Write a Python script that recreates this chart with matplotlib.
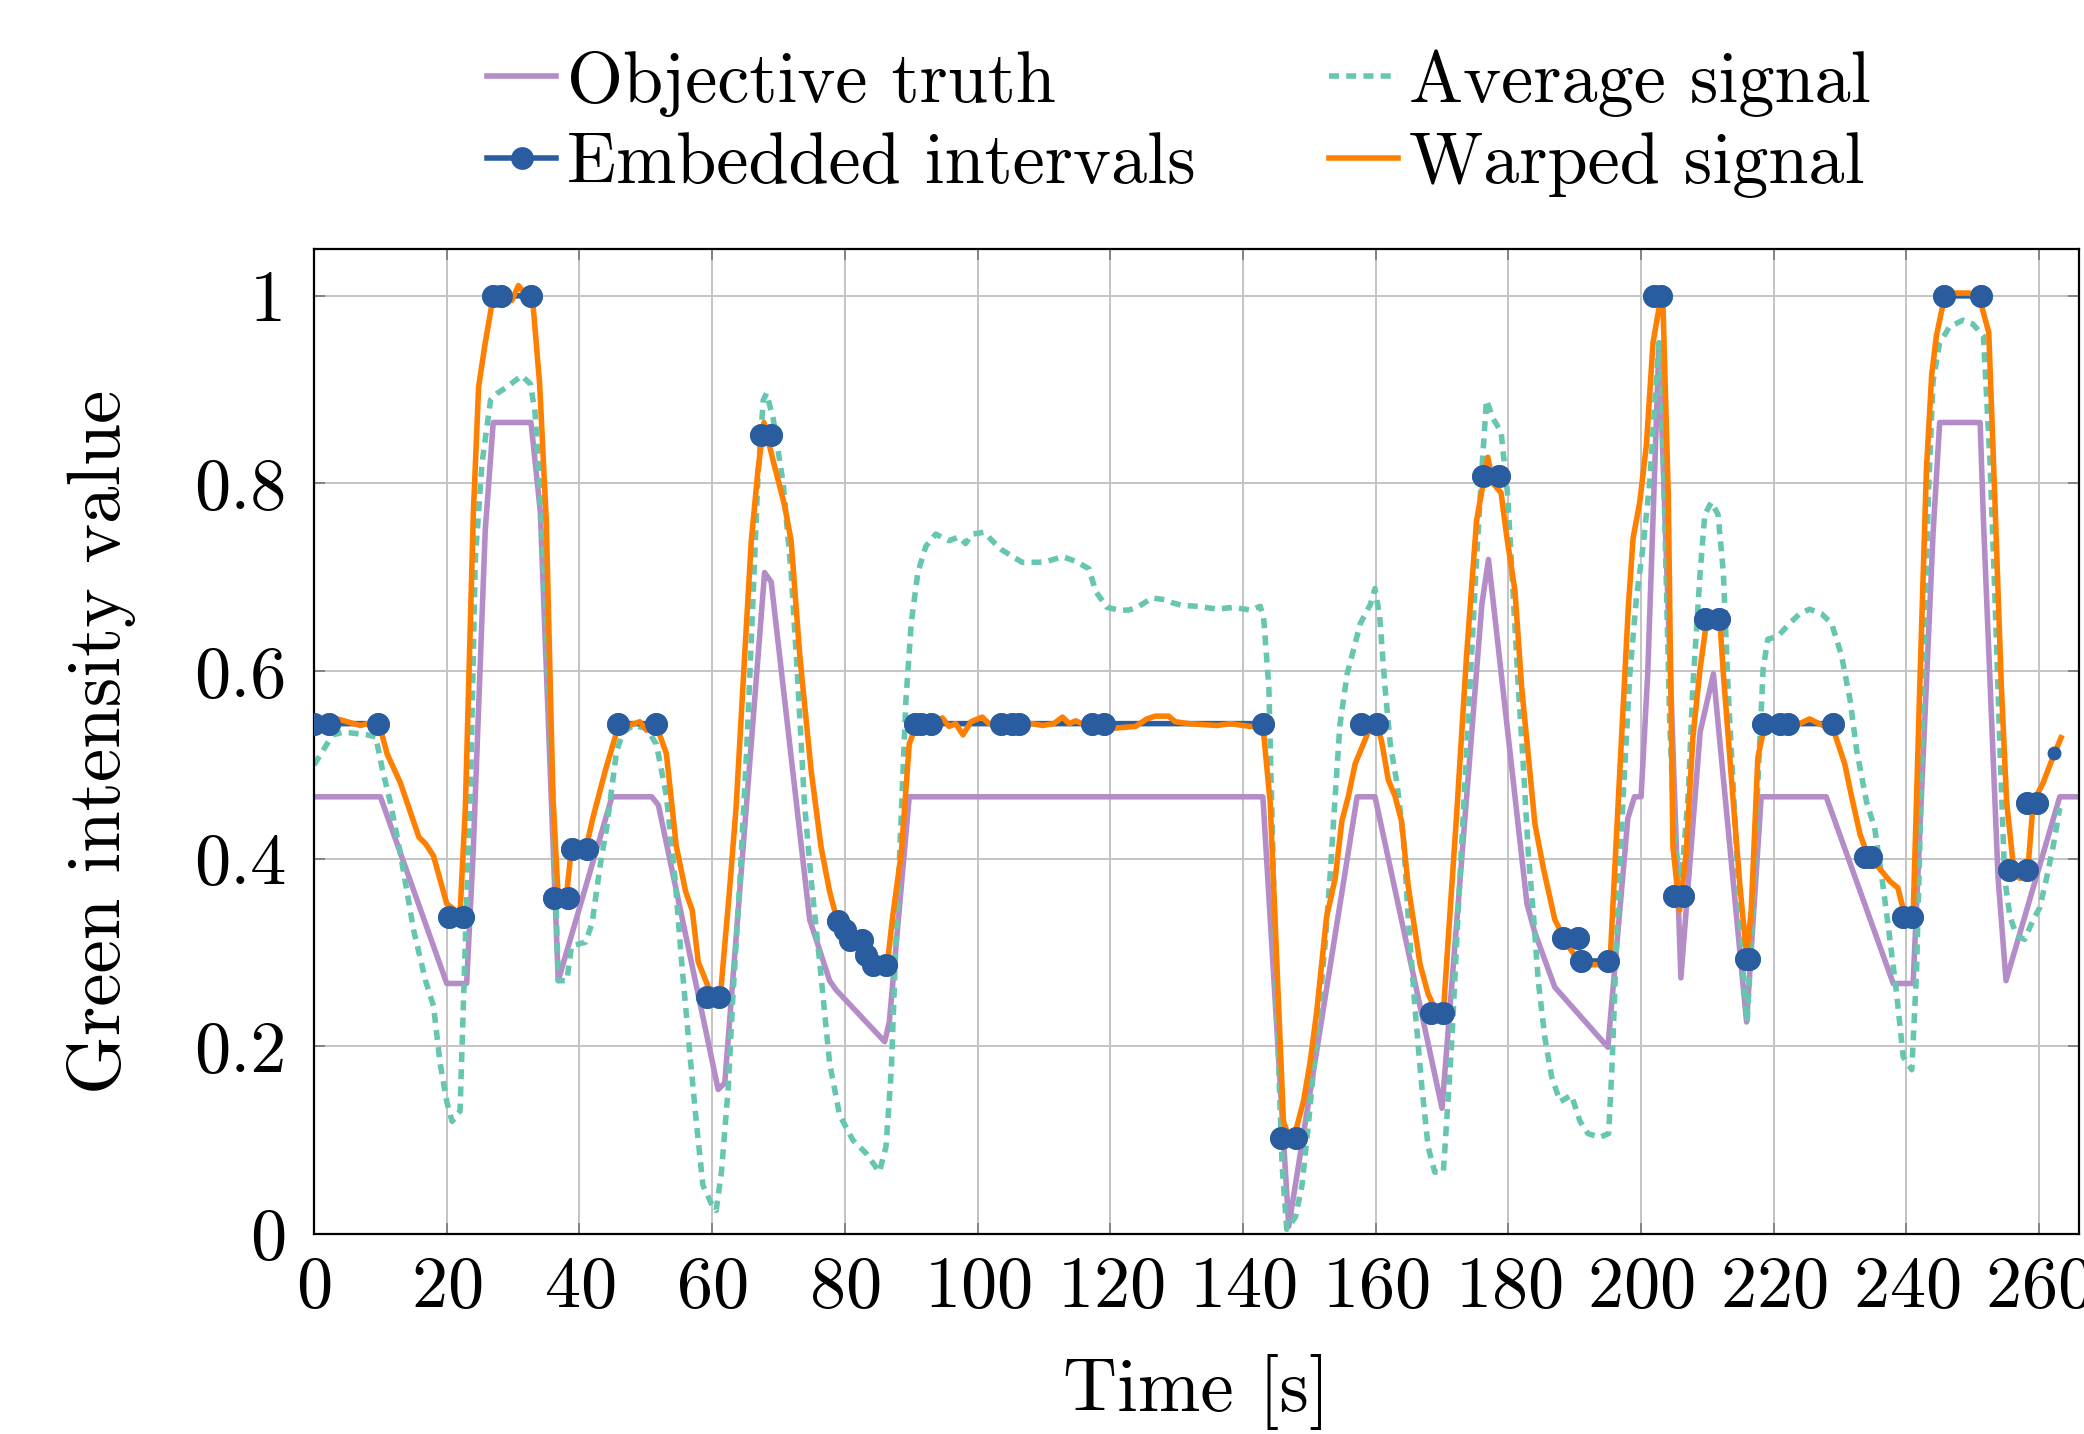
import numpy as np
import matplotlib
matplotlib.use('Agg')
import matplotlib.pyplot as plt

plt.rcParams['font.family'] = ['cmr10', 'DejaVu Serif']
plt.rcParams['axes.formatter.use_mathtext'] = True
plt.rcParams['mathtext.fontset'] = 'cm'

# Objective truth
truth_t = [0, 10, 20, 23, 24, 25.8, 27, 32.7, 34.1, 36.8, 44.9, 50.9, 51.9, 60.9, 61.9,
           67.9, 68.9, 74.7, 77.7, 78.7, 86, 86.7, 89.7, 143, 146.9, 157.2, 159.9, 170,
           176, 177, 182.8, 184, 187, 195, 198, 199, 200, 201, 202.7, 206, 208.9, 210.9,
           215.9, 218.1, 227.9, 238, 241, 244, 245, 251.1, 251.6, 253.8, 255, 263.1, 266]
truth_v = [0.466, 0.466, 0.267, 0.267, 0.41, 0.75, 0.865, 0.865, 0.77, 0.27, 0.466, 0.466,
           0.457, 0.154, 0.161, 0.705, 0.695, 0.335, 0.27, 0.26, 0.205, 0.226, 0.466, 0.466,
           0.008, 0.466, 0.466, 0.134, 0.671, 0.719, 0.352, 0.321, 0.263, 0.199, 0.443,
           0.466, 0.466, 0.597, 0.95, 0.273, 0.535, 0.597, 0.226, 0.466, 0.466, 0.267, 0.267,
           0.746, 0.865, 0.865, 0.76, 0.38, 0.27, 0.466, 0.466]

# Average signal
avg_t = [0, 2.8, 4.5, 8, 9.3, 10.3, 11.5, 13, 15, 16.8, 18, 19, 20, 20.8, 22, 22.8, 23.6,
         24.3, 25.3, 26.6, 27.6, 29.1, 31.3, 32.6, 33.3, 34.1, 35, 36.1, 36.8, 38.1, 38.8,
         40.9, 41.9, 43.1, 44.1, 45.6, 46.6, 48.1, 50.1, 51.6, 53.1, 54.4, 55.4, 56.6, 57.6,
         58.6, 59.9, 60.6, 61.4, 62.4, 63.1, 64.2, 65.2, 66.2, 66.9, 67.7, 68.2, 69.2, 70.7,
         71.9, 72.9, 73.9, 74.9, 76.2, 77.7, 79.2, 81.2, 83.2, 85.2, 86.2, 87, 87.7, 88.5,
         89.2, 90, 91, 92.2, 93.7, 95.7, 97.2, 98.2, 99.2, 101, 102.2, 103.7, 106.7, 109.2,
         110.5, 112.8, 114.8, 116.8, 117.8, 119.5, 121.3, 122.8, 124.3, 126.3, 128.3, 129.3,
         130.8, 133.3, 136.1, 138.6, 141.1, 142.6, 143.1, 143.9, 144.6, 145.4, 145.9, 146.6,
         147.9, 148.9, 149.9, 151.1, 152.4, 153.1, 153.9, 154.6, 155.7, 156.7, 157.7, 159.2,
         159.9, 160.6, 161.4, 162.2, 163.2, 164.2, 164.9, 165.9, 166.9, 167.9, 168.9, 170.2,
         170.7, 171.5, 172.2, 173.2, 174.2, 175.2, 176, 176.7, 177.7, 178.9, 179.9, 180.8,
         181.5, 182.3, 183, 183.8, 184.5, 185.5, 186.5, 187.8, 189.5, 190.8, 192, 193.8,
         195.1, 195.6, 196.3, 197.3, 198.3, 199.3, 200.3, 201.3, 202.1, 202.7, 203.1, 203.6,
         204.3, 205.1, 206.1, 207.1, 207.8, 208.9, 209.6, 210.6, 211.6, 212.4, 213.1, 213.9,
         214.6, 215.4, 216, 216.6, 217.6, 218.4, 219.1, 220.6, 222.4, 223.9, 225.4, 227.2,
         228.7, 230.2, 231.5, 232.5, 234, 235.2, 236.2, 237.2, 238.5, 239.5, 240.8, 241.5,
         242, 242.5, 243.3, 244, 245, 246.5, 248.5, 250, 251.6, 252.6, 253.3, 254.1, 254.8,
         255.6, 256.6, 257.8, 259.1, 260.1, 261.1, 262.1, 263.1]
avg_v = [0.5, 0.532, 0.535, 0.532, 0.53, 0.495, 0.46, 0.406, 0.324, 0.27, 0.243, 0.182,
         0.141, 0.12, 0.131, 0.311, 0.481, 0.719, 0.821, 0.889, 0.896, 0.903, 0.915, 0.906,
         0.876, 0.787, 0.651, 0.447, 0.27, 0.27, 0.307, 0.311, 0.331, 0.392, 0.433, 0.515,
         0.535, 0.542, 0.539, 0.522, 0.467, 0.379, 0.29, 0.195, 0.12, 0.052, 0.032, 0.025,
         0.066, 0.154, 0.25, 0.379, 0.515, 0.685, 0.807, 0.889, 0.896, 0.869, 0.8, 0.705,
         0.59, 0.46, 0.379, 0.29, 0.182, 0.127, 0.1, 0.086, 0.066, 0.093, 0.175, 0.311,
         0.447, 0.569, 0.651, 0.705, 0.733, 0.746, 0.739, 0.743, 0.736, 0.746, 0.748, 0.739,
         0.729, 0.716, 0.716, 0.717, 0.722, 0.717, 0.709, 0.685, 0.668, 0.665, 0.665, 0.669,
         0.678, 0.676, 0.673, 0.67, 0.669, 0.666, 0.668, 0.665, 0.669, 0.658, 0.583, 0.379,
         0.175, 0.073, 0.005, 0.018, 0.052, 0.12, 0.209, 0.311, 0.379, 0.467, 0.542, 0.597,
         0.624, 0.651, 0.671, 0.688, 0.658, 0.583, 0.522, 0.481, 0.42, 0.338, 0.243, 0.161,
         0.093, 0.066, 0.066, 0.12, 0.209, 0.311, 0.447, 0.583, 0.719, 0.814, 0.889, 0.869,
         0.855, 0.787, 0.671, 0.583, 0.494, 0.406, 0.338, 0.27, 0.209, 0.168, 0.141, 0.148,
         0.12, 0.107, 0.103, 0.107, 0.175, 0.311, 0.467, 0.597, 0.678, 0.733, 0.801, 0.889,
         0.95, 0.9, 0.753, 0.549, 0.413, 0.379, 0.467, 0.583, 0.705, 0.767, 0.78, 0.767,
         0.705, 0.583, 0.473, 0.379, 0.277, 0.226, 0.311, 0.481, 0.603, 0.634, 0.637, 0.651,
         0.661, 0.666, 0.661, 0.651, 0.617, 0.569, 0.515, 0.46, 0.433, 0.385, 0.331, 0.257,
         0.189, 0.175, 0.277, 0.413, 0.583, 0.787, 0.909, 0.95, 0.967, 0.974, 0.97, 0.957,
         0.821, 0.685, 0.515, 0.379, 0.338, 0.318, 0.314, 0.335, 0.348, 0.379, 0.413, 0.454]

# Embedded intervals (nan separates intervals)
nan = np.nan
emb_t = [0, 2.2, 9.7, nan, 20.3, 22.4, nan, 27, 28.2, 32.7, nan, 36.2, 38.3, nan, 38.8, 41.1,
         nan, 45.8, 51.5, nan, 59.2, 61.1, nan, 67.3, 68.9, nan, 79, 80, 80.8, 82.6, 83.2,
         84.2, 86.2, nan, 90.6, 91.4, 93, 103.6, 105.2, 106.2, 117.3, 119, 143, nan, 145.8,
         148, nan, 157.8, 160.2, nan, 168.3, 170.1, nan, 176.1, 178.6, nan, 188.2, 190.5, nan,
         190.9, 195, nan, 201.9, 203, nan, 205, 206.3, nan, 209.7, 211.8, nan, 215.8, 216.3,
         nan, 218.3, 220.9, 222.2, 229, nan, 233.8, 234.6, nan, 239.4, 240.9, nan, 245.6,
         251.2, nan, 255.4, 258.2, nan, 258.2, 259.7]
emb_v = [0.544, 0.544, 0.544, nan, 0.338, 0.338, nan, 1, 1, 1, nan, 0.358, 0.358, nan, 0.41,
         0.41, nan, 0.544, 0.544, nan, 0.253, 0.253, nan, 0.852, 0.852, nan, 0.334, 0.324,
         0.313, 0.313, 0.297, 0.287, 0.287, nan, 0.544, 0.544, 0.544, 0.544, 0.544, 0.544,
         0.544, 0.544, 0.544, nan, 0.102, 0.102, nan, 0.544, 0.544, nan, 0.236, 0.236, nan,
         0.808, 0.808, nan, 0.316, 0.316, nan, 0.291, 0.291, nan, 1, 1, nan, 0.36, 0.36, nan,
         0.656, 0.656, nan, 0.293, 0.293, nan, 0.544, 0.544, 0.544, 0.544, nan, 0.402, 0.402,
         nan, 0.338, 0.338, nan, 1, 1, nan, 0.388, 0.388, nan, 0.459, 0.459]
emb_last_t = [262.2]
emb_last_v = [0.513]

# Warped signal
warp_t = [0, 2, 5, 7, 8, 9.8, 11, 13, 15.8, 16.8, 18, 20, 22, 22.8, 24, 24.8, 25.8, 26.8,
          28, 29.8, 30.8, 33, 34, 35, 36, 36.8, 38, 38.8, 41, 42, 43.9, 45.6, 47.4, 49.1,
          50.1, 51.6, 53.1, 54.6, 56, 57, 57.9, 59.6, 61.1, 62.6, 63.6, 64.9, 65.9, 66.9,
          67.8, 69.2, 70.9, 71.9, 73.2, 74.9, 76.4, 77.7, 78.7, 80.2, 82.4, 84.2, 85.7, 86.5,
          87.2, 88.5, 89.7, 90.7, 94.7, 95.7, 96.7, 97.8, 99, 100.7, 101.7, 108.2, 109.8,
          111.5, 112.8, 113.8, 114.8, 116.3, 120.3, 123.8, 125.5, 126.8, 128.8, 129.8, 131.8,
          136.1, 138.1, 141.1, 143, 144.1, 145.1, 146.1, 147.1, 148.1, 149.1, 150.1, 151.1,
          152.6, 153.9, 154.9, 155.9, 156.9, 158.7, 159.9, 160.9, 161.9, 162.9, 163.9, 164.9,
          166.7, 167.9, 169.2, 170.2, 170.9, 172.2, 173.7, 175.2, 176.2, 176.9, 177.7, 178.9,
          179.7, 181, 182, 184, 185.3, 187, 189, 191, 192.5, 195.3, 196.6, 198.1, 198.8,
          199.8, 200.8, 201.8, 202.8, 203.3, 204.1, 204.8, 205.8, 206.8, 207.8, 208.9, 209.9,
          211.9, 212.4, 213.9, 214.9, 215.9, 216.6, 217.6, 218.4, 219.9, 223.9, 225.4, 227.4,
          229.1, 230.7, 231.7, 233, 234.2, 236, 237.5, 238.7, 239.7, 241, 242, 243, 243.8,
          244.5, 245.5, 247, 249.5, 251.1, 252.4, 253.3, 254.3, 255.1, 256.1, 257.1, 258.3,
          259.1, 260.6, 261.9, 263.3]
warp_v = [0.544, 0.552, 0.546, 0.542, 0.544, 0.544, 0.512, 0.481, 0.423, 0.416, 0.403, 0.352,
          0.341, 0.454, 0.767, 0.903, 0.95, 0.991, 1.0, 0.995, 1.011, 0.991, 0.906, 0.76,
          0.467, 0.358, 0.358, 0.412, 0.412, 0.443, 0.494, 0.535, 0.542, 0.546, 0.537, 0.542,
          0.512, 0.413, 0.365, 0.345, 0.29, 0.26, 0.243, 0.365, 0.454, 0.617, 0.739, 0.814,
          0.865, 0.824, 0.777, 0.739, 0.617, 0.495, 0.413, 0.365, 0.338, 0.324, 0.311, 0.297,
          0.29, 0.294, 0.338, 0.406, 0.522, 0.542, 0.55, 0.541, 0.544, 0.532, 0.546, 0.551,
          0.544, 0.544, 0.542, 0.544, 0.551, 0.544, 0.547, 0.542, 0.539, 0.541, 0.549, 0.552,
          0.552, 0.546, 0.544, 0.542, 0.544, 0.541, 0.542, 0.46, 0.29, 0.12, 0.1, 0.114, 0.141,
          0.182, 0.236, 0.338, 0.379, 0.44, 0.467, 0.501, 0.532, 0.552, 0.525, 0.484, 0.467,
          0.44, 0.371, 0.287, 0.256, 0.236, 0.236, 0.311, 0.447, 0.617, 0.76, 0.8, 0.828, 0.8,
          0.79, 0.746, 0.685, 0.583, 0.437, 0.389, 0.335, 0.307, 0.287, 0.287, 0.287, 0.467,
          0.671, 0.742, 0.78, 0.841, 0.95, 0.991, 0.99, 0.787, 0.413, 0.345, 0.406, 0.529,
          0.603, 0.654, 0.651, 0.597, 0.46, 0.371, 0.297, 0.345, 0.508, 0.535, 0.544, 0.544,
          0.549, 0.542, 0.535, 0.501, 0.467, 0.426, 0.403, 0.389, 0.376, 0.369, 0.341, 0.338,
          0.583, 0.814, 0.916, 0.957, 0.991, 1.003, 1.003, 0.995, 0.961, 0.787, 0.583, 0.46,
          0.393, 0.379, 0.389, 0.46, 0.481, 0.505, 0.529]

c_truth = '#b48cc8'
c_avg = '#66c6b0'
c_emb = '#2a5d9f'
c_warp = '#ff8000'

lw = 2.0
fig = plt.figure(figsize=(10.42, 7.17), dpi=200)
ax = fig.add_axes([0.1507, 0.1395, 0.8469, 0.6869])

ax.plot(truth_t, truth_v, color=c_truth, lw=lw, label='Objective truth', zorder=2)
ax.plot(avg_t, avg_v, color=c_avg, lw=lw, dashes=(1.8, 1.3), label='Average signal', zorder=2.2)
ax.plot(emb_t, emb_v, color=c_emb, lw=lw, marker='o', ms=7.2, label='Embedded intervals', zorder=2.5)
ax.plot(warp_t, warp_v, color=c_warp, lw=lw, label='Warped signal', zorder=3)
ax.plot(emb_t, emb_v, ls='none', color=c_emb, marker='o', ms=7.2, zorder=4)
ax.plot(emb_last_t, emb_last_v, ls='none', color=c_emb, marker='o', ms=4, zorder=4)

ax.set_xlim(0, 266)
ax.set_ylim(0, 1.05)
ax.set_xticks(range(0, 261, 20))
ax.set_yticks([0, 0.2, 0.4, 0.6, 0.8, 1.0])
ax.set_yticklabels(['0', '0.2', '0.4', '0.6', '0.8', '1'])
ax.tick_params(direction='in', top=True, right=True, length=4, width=0.6,
               color='#777777', labelsize=26)
ax.tick_params(axis='y', pad=10)
ax.tick_params(axis='x', pad=8)
ax.grid(True, color='#c4c4c4', lw=0.7)
ax.set_axisbelow(True)
for s in ax.spines.values():
    s.set_linewidth(0.8)

ax.set_xlabel('Time [s]', fontsize=27, labelpad=12)
ax.set_ylabel('Green intensity value', fontsize=27, labelpad=21)

h, l = ax.get_legend_handles_labels()
order = [0, 2, 1, 3]
ax.legend([h[i] for i in order], [l[i] for i in order], ncol=2, frameon=False,
          loc='lower center', bbox_to_anchor=(0.49, 1.0), fontsize=26,
          handlelength=0.95, handletextpad=0.15, columnspacing=1.85, labelspacing=0.22,
          borderaxespad=0.3)

fig.savefig('out.png', dpi=200)
